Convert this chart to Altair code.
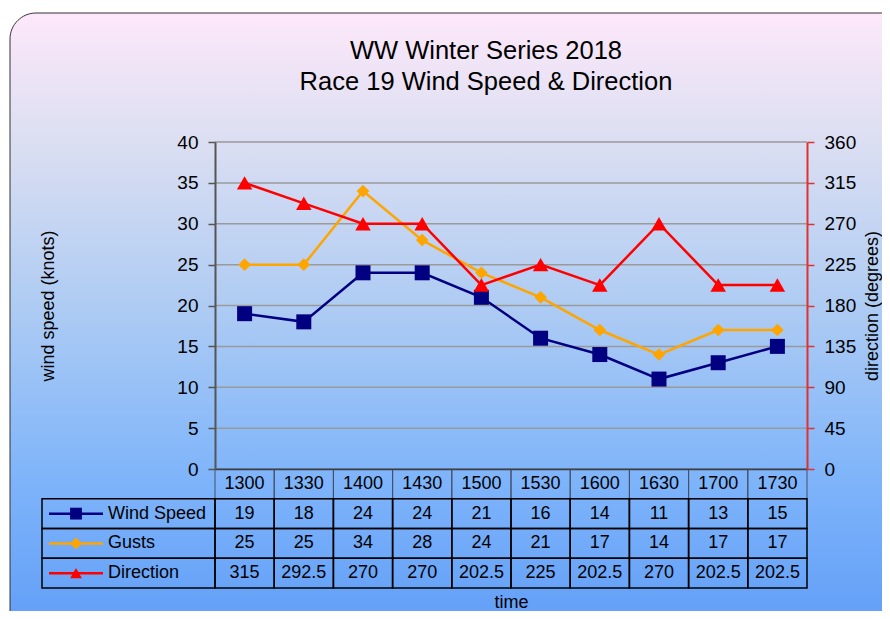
import altair as alt
import pandas as pd

# ---------------- data ----------------
times = ["1300", "1330", "1400", "1430", "1500", "1530", "1600", "1630", "1700", "1730"]
wind_speed = [19, 18, 24, 24, 21, 16, 14, 11, 13, 15]
gusts = [25, 25, 34, 28, 24, 21, 17, 14, 17, 17]
direction = [315, 292.5, 270, 270, 202.5, 225, 202.5, 270, 202.5, 202.5]
series_names = ["Wind Speed", "Gusts", "Direction"]
left_ticks = [0, 5, 10, 15, 20, 25, 30, 35, 40]
right_ticks = [0, 45, 90, 135, 180, 225, 270, 315, 360]
title_lines = ["WW Winter Series 2018", "Race 19 Wind Speed & Direction"]

# ---------------- styling ----------------
FONT = "Liberation Sans"
W, H = 592, 327
C_WIND, C_GUST, C_DIR = "#000080", "#ffa500", "#ff0000"
series_colors = [C_WIND, C_GUST, C_DIR]
series_shapes = ["square", "diamond", "triangle-up"]

n = len(times)
df = pd.DataFrame({
    "idx": list(range(n)),
    "time": times,
    "wind": wind_speed,
    "gusts": gusts,
    "direction": direction,
})


def fmt(v):
    return f"{v:g}"


# table cells: row 0 = header (times), rows 1..3 = series values
cells = []
for i, t in enumerate(times):
    cells.append({"idx": i, "x0": i - 0.5, "x1": i + 0.5, "row": 0, "text": t})
for r, vals in enumerate([wind_speed, gusts, direction], start=1):
    for i, v in enumerate(vals):
        cells.append({"idx": i, "x0": i - 0.5, "x1": i + 0.5, "row": r, "text": fmt(v)})
cells_df = pd.DataFrame(cells)
cells_df["row1"] = cells_df["row"] + 1
cells_df["rowm"] = cells_df["row"] + 0.5

legend_df = pd.DataFrame({"name": series_names, "row": [1, 2, 3]})
legend_df["row1"] = legend_df["row"] + 1
legend_df["rowm"] = legend_df["row"] + 0.5

grid_df = pd.DataFrame({"g": left_ticks[1:]})
bg_df = pd.DataFrame({"a": [0]})

# ---------------- scales / axes ----------------
x_axis = alt.Axis(title="time", labels=False, ticks=False, grid=False,
                  domainColor="#404040", domainWidth=1.5, zindex=1,
                  titleFont=FONT, titleFontSize=18, titleFontWeight="normal",
                  titleColor="black", titleY=133, titleBaseline="middle")
x_scale = alt.Scale(domain=[-0.5, n - 0.5], nice=False, zero=False)


def X(field):
    return alt.X(f"{field}:Q", scale=x_scale, axis=x_axis)


left_scale = alt.Scale(domain=[0, 40], nice=False)
left_axis = alt.Axis(title="wind speed (knots)", orient="left", values=left_ticks, grid=False,
                     domainColor="#555555", domainWidth=2, tickColor="#555555", tickSize=7,
                     tickWidth=1.5, labelFont=FONT, labelFontSize=19, labelColor="black",
                     labelPadding=10, titleFont=FONT, titleFontSize=18, titleFontWeight="normal",
                     titleColor="black", titleAngle=270, titleX=-167, titleY=H / 2,
                     titleAlign="center", titleBaseline="middle", zindex=1)


def YL(field):
    return alt.Y(f"{field}:Q", scale=left_scale, axis=left_axis)


right_scale = alt.Scale(domain=[0, 360], nice=False)
right_axis = alt.Axis(title="direction (degrees)", orient="right", values=right_ticks, grid=False,
                      domainColor="#e03030", domainWidth=2, tickColor="#e03030", tickSize=7,
                      tickWidth=1.5, labelFont=FONT, labelFontSize=19, labelColor="black",
                      labelPadding=10, titleFont=FONT, titleFontSize=18, titleFontWeight="normal",
                      titleColor="black", titleAngle=270, titleX=65, titleY=H / 2,
                      titleAlign="center", titleBaseline="middle", zindex=1)

table_scale = alt.Scale(domain=[0, 4], range=[H, H + 119], nice=False, zero=False)


def YT(field):
    return alt.Y(f"{field}:Q", scale=table_scale, axis=None)


def YT2(field):
    return alt.Y2(f"{field}:Q")


name_color = alt.Color("name:N", scale=alt.Scale(domain=series_names, range=series_colors), legend=None)
name_shape = alt.Shape("name:N", scale=alt.Scale(domain=series_names, range=series_shapes), legend=None)

# ---------------- background ----------------
bg = alt.Chart(bg_df).mark_rect(
    cornerRadius=26, stroke="#333333", strokeWidth=1,
    fill=alt.Gradient(gradient="linear", x1=0, y1=0, x2=0, y2=1, stops=[
        alt.GradientStop(color="#fde8fa", offset=0.0),
        alt.GradientStop(color="#dcdff2", offset=0.2),
        alt.GradientStop(color="#afccf3", offset=0.46),
        alt.GradientStop(color="#80b5fa", offset=0.73),
        alt.GradientStop(color="#5e9cf7", offset=1.0),
    ]),
).encode(x=alt.value(-205), x2=alt.value(720), y=alt.value(-129), y2=alt.value(500))

# ---------------- left-axis series ----------------
grid = alt.Chart(grid_df).mark_rule(color="#9a9a9a", strokeWidth=1.5).encode(
    y=YL("g"), x=alt.value(0), x2=alt.value(W))

wind_line = alt.Chart(df).mark_line(color=C_WIND, strokeWidth=2.5).encode(x=X("idx"), y=YL("wind"))
wind_pts = alt.Chart(df).mark_point(filled=True, shape="square", size=225, color=C_WIND, opacity=1).encode(
    x=X("idx"), y=YL("wind"))
gust_line = alt.Chart(df).mark_line(color=C_GUST, strokeWidth=2.5).encode(x=X("idx"), y=YL("gusts"))
gust_pts = alt.Chart(df).mark_point(filled=True, shape="diamond", size=160, color=C_GUST, opacity=1).encode(
    x=X("idx"), y=YL("gusts"))
left = alt.layer(grid, wind_line, gust_line, wind_pts, gust_pts)

# ---------------- right-axis series ----------------
dir_line = alt.Chart(df).mark_line(color=C_DIR, strokeWidth=2.5).encode(
    x=X("idx"), y=alt.Y("direction:Q", scale=right_scale, axis=right_axis))
dir_pts = alt.Chart(df).mark_point(filled=True, shape="triangle-up", size=240, color=C_DIR, opacity=1).encode(
    x=X("idx"), y=alt.Y("direction:Q", scale=right_scale, axis=right_axis))
right = alt.layer(dir_line, dir_pts)

# ---------------- data table ----------------
header_cells = alt.Chart(cells_df).transform_filter("datum.row == 0").mark_rect(
    fillOpacity=0, stroke="#44506a", strokeWidth=1).encode(
    x=X("x0"), x2="x1", y=YT("row"), y2=YT2("row1"))
value_cells = alt.Chart(cells_df).transform_filter("datum.row > 0").mark_rect(
    fillOpacity=0, stroke="black", strokeWidth=1.5).encode(
    x=X("x0"), x2="x1", y=YT("row"), y2=YT2("row1"))
cell_text = alt.Chart(cells_df).mark_text(font=FONT, fontSize=18, color="black",
                                          align="center", baseline="middle").encode(
    x=X("idx"), y=YT("rowm"), text="text:N")
legend_cells = alt.Chart(legend_df).mark_rect(fillOpacity=0, stroke="black", strokeWidth=1.5).encode(
    x=alt.value(-173), x2=alt.value(0), y=YT("row"), y2=YT2("row1"))
legend_lines = alt.Chart(legend_df).mark_rule(strokeWidth=2.5).encode(
    x=alt.value(-166), x2=alt.value(-112), y=YT("rowm"), color=name_color)
legend_pts = alt.Chart(legend_df).mark_point(filled=True, size=140, opacity=1).encode(
    x=alt.value(-139), y=YT("rowm"), color=name_color, shape=name_shape)
legend_text = alt.Chart(legend_df).mark_text(font=FONT, fontSize=18, color="black",
                                             align="left", baseline="middle").encode(
    x=alt.value(-107), y=YT("rowm"), text="name:N")
table = alt.layer(header_cells, value_cells, cell_text, legend_cells, legend_lines, legend_pts, legend_text)

chart = alt.layer(bg, left, right, table).resolve_scale(y="independent").properties(
    width=W, height=H,
    autosize=alt.AutoSizeParams(type="none"),
    padding={"left": 207, "top": 134, "right": 75, "bottom": 142},
    title=alt.TitleParams(text=title_lines, font=FONT, fontSize=25.5, fontWeight="normal",
                          color="black", anchor="middle", frame="group", dx=-25,
                          offset=-83, lineHeight=31),
).configure_view(stroke=None).configure(background="white")

chart.save("out.html", embed_options={"renderer": "svg", "actions": False})
